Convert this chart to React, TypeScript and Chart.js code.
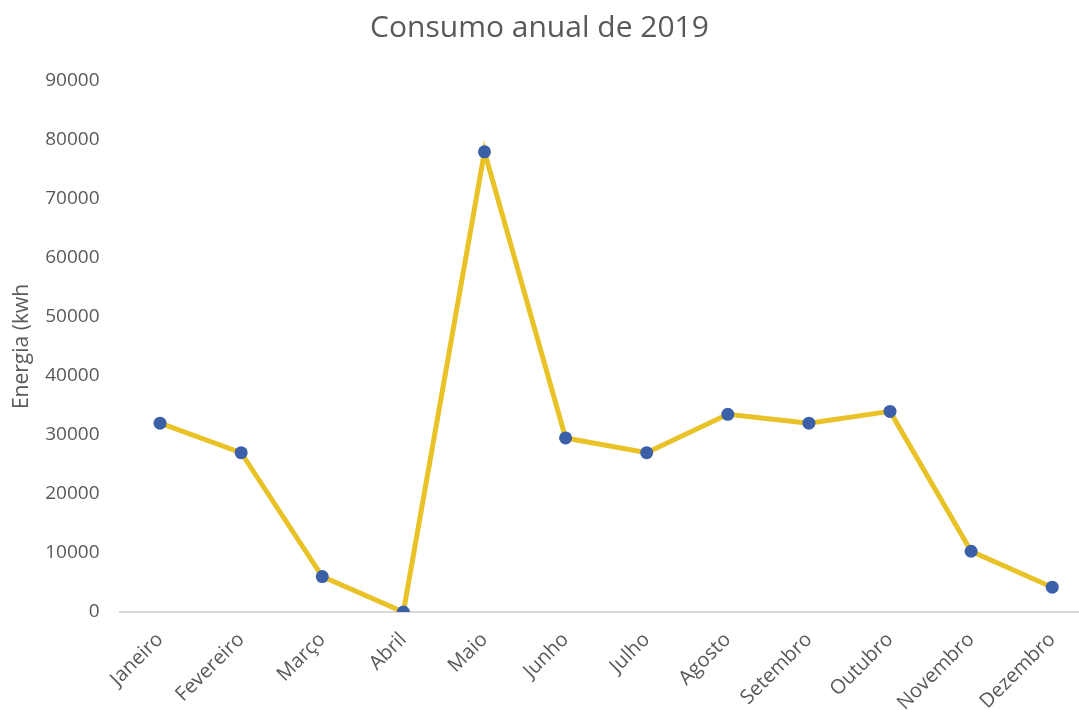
import React, { useEffect, useRef } from "react";
import { Chart, registerables } from "chart.js";

Chart.register(...registerables);

const chartTitle = "Consumo anual de 2019";
const yAxisTitle = "Energia (kwh";
const months = [
  "Janeiro", "Fevereiro", "Março", "Abril", "Maio", "Junho",
  "Julho", "Agosto", "Setembro", "Outubro", "Novembro", "Dezembro",
];
const consumo = [32000, 27000, 6000, 0, 78000, 29500, 27000, 33500, 32000, 34000, 10300, 4200];
const yMin = 0;
const yMax = 90000;
const yStep = 10000;

const textColor = "#595959";
const fontFamily = "'Open Sans', sans-serif";

export default function App() {
  const ref = useRef<HTMLCanvasElement>(null);

  useEffect(() => {
    if (!ref.current) return;
    const chart = new Chart(ref.current, {
      type: "line",
      data: {
        datasets: [
          {
            data: consumo.map((v, i) => ({ x: i, y: v })),
            borderColor: "#E8C226",
            borderWidth: 5,
            pointRadius: 6.5,
            pointBackgroundColor: "#3B60A8",
            pointBorderColor: "#3B60A8",
            pointBorderWidth: 0,
            tension: 0,
          },
        ],
      },
      options: {
        animation: false,
        responsive: false,
        maintainAspectRatio: false,
        layout: { autoPadding: false, padding: { left: 0, right: 0, top: 0, bottom: 0 } },
        plugins: {
          legend: { display: false },
          tooltip: { enabled: false },
          title: {
            display: true,
            text: chartTitle,
            color: textColor,
            font: { family: fontFamily, size: 30, weight: "normal" },
            padding: { top: 10, bottom: 35 },
          },
        },
        scales: {
          x: {
            type: "linear",
            min: -0.5,
            max: 11.33,
            afterBuildTicks: (scale: any) => {
              scale.ticks = months.map((_, i) => ({ value: i }));
            },
            afterFit: (scale: any) => {
              scale.height = 98;
              scale.paddingLeft = 0;
              scale.paddingRight = 0;
            },
            ticks: {
              autoSkip: false,
              minRotation: 45,
              maxRotation: 45,
              padding: 16,
              color: textColor,
              font: { family: fontFamily, size: 20 },
              callback: (v: any) => months[v as number] ?? "",
            },
            grid: { display: false, drawTicks: false },
            border: { display: true, color: "#D9D9D9", width: 2 },
          },
          y: {
            min: yMin,
            max: yMax,
            afterFit: (scale: any) => {
              scale.width = 119.5;
            },
            ticks: {
              stepSize: yStep,
              padding: 20,
              color: textColor,
              font: { family: fontFamily, size: 19 },
              callback: (v: any) => String(v),
            },
            grid: { display: false, drawTicks: false },
            border: { display: false },
            title: {
              display: true,
              text: yAxisTitle,
              color: textColor,
              font: { family: fontFamily, size: 21 },
              padding: { top: 9, bottom: 0 },
            },
          },
        },
      },
    });
    return () => chart.destroy();
  }, []);

  return (
    <div style={{ position: "fixed", left: 0, top: 0, width: 1079, height: 710, background: "#fff" }}>
      <canvas ref={ref} width={1079} height={710} style={{ display: "block" }} />
    </div>
  );
}
